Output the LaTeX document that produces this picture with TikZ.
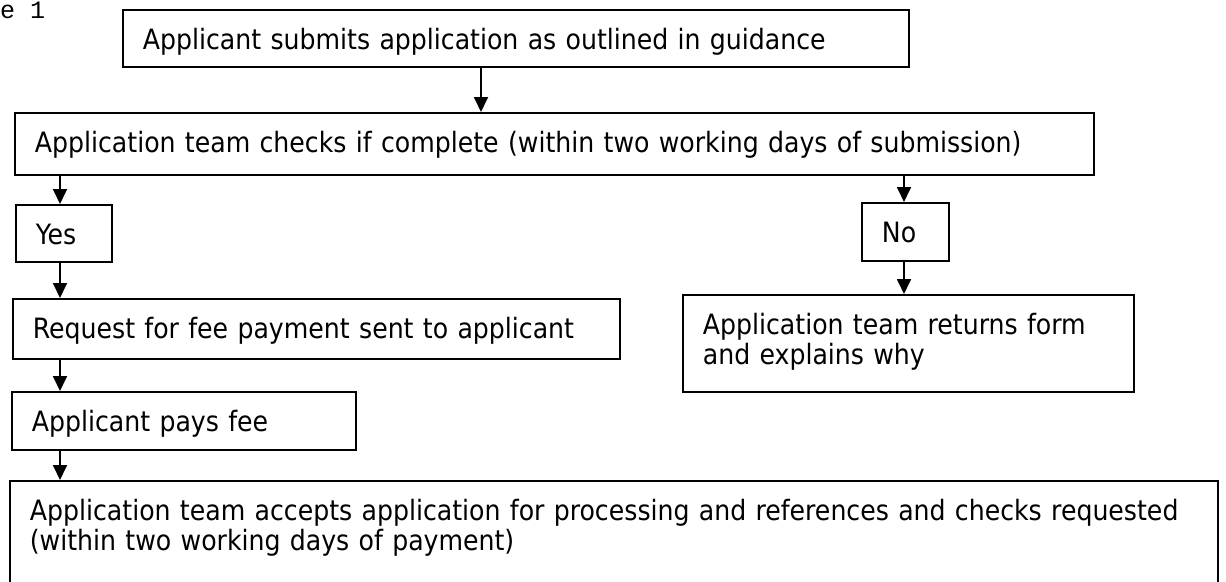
\documentclass[tikz,border=0pt]{standalone}
\usepackage{fontspec}
\setmainfont{DejaVu Sans Condensed}
\newfontfamily\figfont{Liberation Mono}
\usetikzlibrary{arrows.meta}

\begin{document}
\begin{tikzpicture}[x=1pt,y=-1pt,>={Triangle[length=15pt,width=14pt]},
    box/.style={draw,line width=1.8pt,anchor=north west,inner xsep=20pt,inner ysep=0pt,
      align=left,text height=40pt,font=\fontsize{28}{30}\selectfont},
    flow/.style={->,line width=1.8pt}]
   \clip (0,0) rectangle (1226,581);
   % 図の番号
   \node [anchor=base west,inner sep=0pt,font=\figfont\fontsize{25}{25}\selectfont] (fig) at (0,18) {e 1};

   % 枠
   \node [box,text width=746pt,text depth=17pt] (submit) at (122,9) {Applicant submits application as outlined in guidance};
   \node [box,text width=1039pt,text depth=22pt] (check) at (14,112) {Application team checks if complete (within two working days of submission)};
   \node [box,text width=56pt,text depth=17pt] (yes) at (15,204) {Yes};
   \node [box,text width=47pt,text depth=18pt] (no) at (861,202) {No};
   \node [box,text width=567pt,text depth=20pt] (request) at (12,298) {Request for fee payment sent to applicant};
   \node [box,text width=411pt,text depth=57pt] (returns) at (682,294) {Application team returns form\\and explains why};
   \node [box,text width=304pt,text depth=18pt] (pays) at (11,391) {Applicant pays fee};
   \node [box,text width=1168pt,text depth=120pt] (accept) at (9,480) {Application team accepts application for processing and references and checks requested\\(within two working days of payment)};

   % 矢印
   \coordinate (mid) at (481,0);
   \coordinate (left) at (60,0);
   \coordinate (right) at (904,0);
   \draw [flow] (submit.south -| mid) -- (check.north -| mid);
   \draw [flow] (check.south -| left) -- (yes.north -| left);
   \draw [flow] (yes.south -| left) -- (request.north -| left);
   \draw [flow] (request.south -| left) -- (pays.north -| left);
   \draw [flow] (pays.south -| left) -- (accept.north -| left);
   \draw [flow] (check.south -| right) -- (no.north -| right);
   \draw [flow] (no.south -| right) -- (returns.north -| right);
\end{tikzpicture}
\end{document}
